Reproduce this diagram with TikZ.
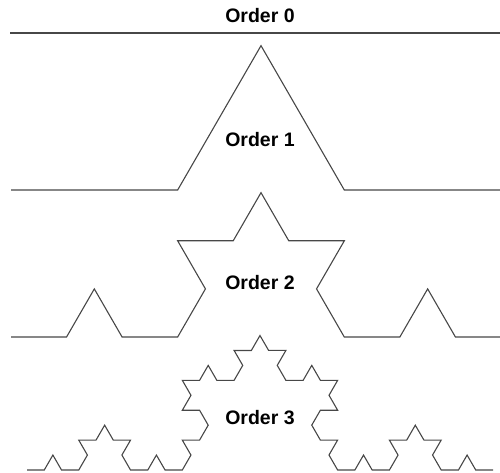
\documentclass[tikz,border=0pt]{standalone}
\usepackage{fontspec}
\setmainfont{Liberation Sans}
\usetikzlibrary{decorations.fractals}
\begin{document}
\begin{tikzpicture}[x=1pt,y=-1pt,
  curve/.style={draw=black!72, line width=1.1pt, line join=miter},
  lbl/.style={font=\bfseries\fontsize{19.5}{22}\selectfont, inner sep=0pt, text=black},
  decoration=Koch snowflake]
\useasboundingbox (0,0) rectangle (500,472);
\clip (0,0) rectangle (500,472);
\draw[curve] (10,33) -- (500,33);
\draw[curve] decorate{(11,190) -- (511,190)};
\draw[curve] decorate{decorate{(11,337) -- (511,337)}};
\draw[curve] decorate{decorate{decorate{(27,470) -- (493,470)}}};
\node[lbl] (t0) at (260,16) {Order 0};
\node[lbl] (t1) at (260,140) {Order 1};
\node[lbl] (t2) at (260,283) {Order 2};
\node[lbl] (t3) at (260,418) {Order 3};
\end{tikzpicture}
\end{document}
